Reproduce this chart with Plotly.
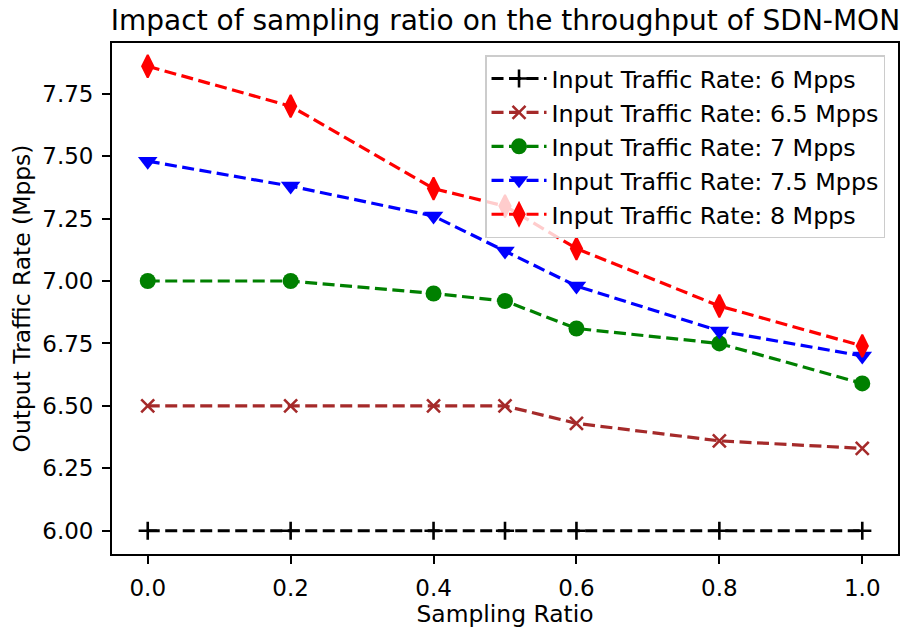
import plotly.graph_objects as go

# Sampling ratios tested
sampling_ratio = [0.0, 0.2, 0.4, 0.5, 0.6, 0.8, 1.0]

# Measured output traffic rate (Mpps) for each input traffic rate
out_6 = [6.00, 6.00, 6.00, 6.00, 6.00, 6.00, 6.00]
out_6_5 = [6.50, 6.50, 6.50, 6.50, 6.43, 6.36, 6.33]
out_7 = [7.00, 7.00, 6.95, 6.92, 6.81, 6.75, 6.59]
out_7_5 = [7.48, 7.38, 7.26, 7.12, 6.98, 6.80, 6.70]
out_8 = [7.86, 7.70, 7.37, 7.30, 7.13, 6.90, 6.74]

series_names = [
    "Input Traffic Rate: 6 Mpps",
    "Input Traffic Rate: 6.5 Mpps",
    "Input Traffic Rate: 7 Mpps",
    "Input Traffic Rate: 7.5 Mpps",
    "Input Traffic Rate: 8 Mpps",
]
series_values = [out_6, out_6_5, out_7, out_7_5, out_8]

styles = [
    dict(color="black", symbol="cross-thin-open", size=13, lw=2.6),
    dict(color="#A52A2A", symbol="x-thin-open", size=13, lw=2.6),
    dict(color="#008000", symbol="circle", size=16, lw=0),
    dict(color="#0000FF", symbol="triangle-down", size=17, lw=0),
    dict(color="#FF0000", symbol="diamond-tall", size=16, lw=2),
]

fig = go.Figure()
for name, vals, st in zip(series_names, series_values, styles):
    fig.add_trace(go.Scatter(
        x=sampling_ratio, y=vals, name=name, mode="lines+markers",
        line=dict(color=st["color"], width=3.2, dash="12px,5.5px"),
        marker=dict(symbol=st["symbol"], size=st["size"], color=st["color"],
                    line=dict(color=st["color"], width=st["lw"])),
    ))

axis_common = dict(
    showline=True, mirror=True, linecolor="black", linewidth=1.8,
    ticks="outside", ticklen=8, tickwidth=1.8, tickcolor="black",
    showgrid=False, zeroline=False,
    tickfont=dict(size=23, color="black"),
    ticklabelstandoff=4,
)

fig.update_layout(
    width=905, height=630,
    margin=dict(l=112, r=5, t=43, b=76),
    paper_bgcolor="white", plot_bgcolor="white",
    font=dict(family="DejaVu Sans", color="black"),
    title=dict(text="Impact of sampling ratio on the throughput of SDN-MON",
               x=0.5585, xanchor="center", y=0.968, yanchor="middle",
               font=dict(size=28, color="black")),
    xaxis=dict(range=[-0.05, 1.05], tickvals=[0, 0.2, 0.4, 0.6, 0.8, 1.0],
               tickformat=".1f",
               title=dict(text="Sampling Ratio", font=dict(size=23.4), standoff=6),
               **axis_common),
    yaxis=dict(range=[5.907, 7.953], tickvals=[6.0, 6.25, 6.5, 6.75, 7.0, 7.25, 7.5, 7.75],
               tickformat=".2f",
               title=dict(text="Output Traffic Rate (Mpps)", font=dict(size=23.4), standoff=5),
               **axis_common),
    legend=dict(x=0.9835, y=0.9765, xanchor="right", yanchor="top",
                bgcolor="rgba(255,255,255,0.8)", bordercolor="#cccccc", borderwidth=1.5,
                font=dict(size=23.8, color="black"), itemwidth=55,
                tracegroupgap=0),
    showlegend=True,
)

fig.write_html("out.html")
